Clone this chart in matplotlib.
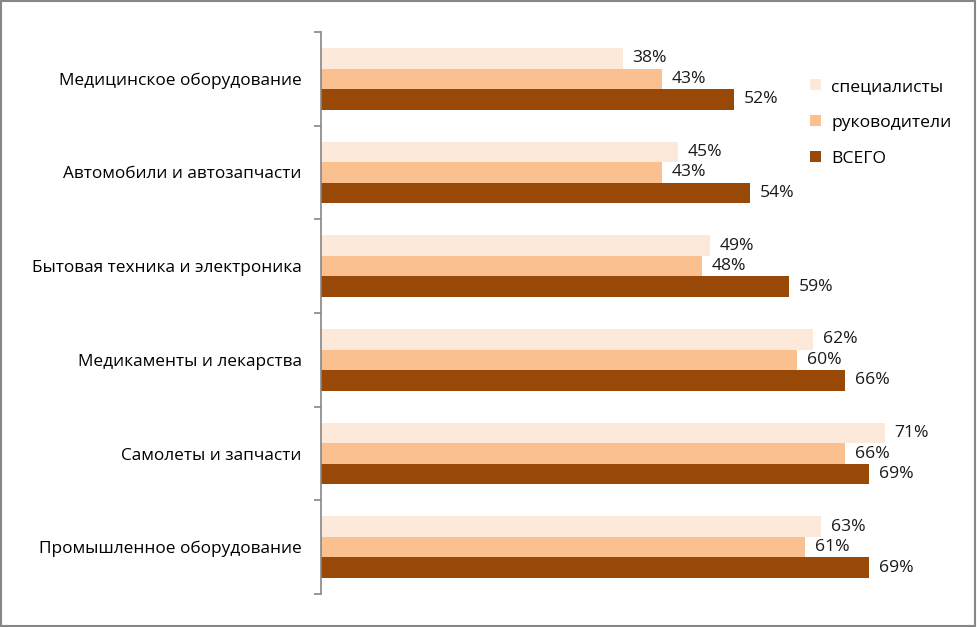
import matplotlib

matplotlib.use("Agg")
import matplotlib.pyplot as plt
import numpy as np
from matplotlib.patches import Rectangle

# data (top to bottom)
categories = [
    "Медицинское оборудование",
    "Автомобили и автозапчасти",
    "Бытовая техника и электроника",
    "Медикаменты и лекарства",
    "Самолеты и запчасти",
    "Промышленное оборудование",
]
specialists = [38, 45, 49, 62, 71, 63]
managers = [43, 43, 48, 60, 66, 61]
total = [52, 54, 59, 66, 69, 69]
series_names = ["специалисты", "руководители", "ВСЕГО"]

COLORS = ["#FDE9D9", "#FAC090", "#984807"]

plt.rcParams.update({
    "font.family": ["Open Sans", "DejaVu Sans"],
    "font.size": 12.4,
})

fig = plt.figure(figsize=(9.77, 6.27), dpi=100)
ax = fig.add_axes([321 / 977, 1 - 594 / 627, (972 - 321) / 977, (594 - 32) / 627])

y = np.arange(len(categories))
h = 0.22
series = [specialists, managers, total]
for k, (vals, name, col) in enumerate(zip(series, series_names, COLORS)):
    pos = y + (k - 1) * h
    bars = ax.barh(pos, vals, height=h, color=col, label=name, edgecolor="none")
    for b, v in zip(bars, vals):
        ax.annotate(f"{v}%", (b.get_width(), b.get_y() + b.get_height() / 2),
                    xytext=(7, 0), textcoords="offset points",
                    va="center", ha="left", fontsize=12.6, color="#1a1a1a")

ax.set_xlim(0, 82)
ax.set_ylim(len(categories) - 0.5, -0.5)
ax.set_yticks(y)
ax.set_yticklabels(categories)
ax.tick_params(axis="y", which="major", length=0, pad=14, labelsize=12.4)
ax.set_yticks(np.arange(-0.5, len(categories), 1), minor=True)
ax.tick_params(axis="y", which="minor", length=5, color="#868686", width=1.2)
ax.set_xticks([])
for s in ["top", "right", "bottom"]:
    ax.spines[s].set_visible(False)
ax.spines["left"].set_color("#868686")
ax.spines["left"].set_linewidth(1.2)

ax.legend(loc="upper left", bbox_to_anchor=(0.727, 0.945), frameon=False,
          handlelength=0.6, handleheight=0.6, labelspacing=1.15,
          handletextpad=0.6, fontsize=12.6)

fig.patches.append(Rectangle((0.001, 0.002), 0.997, 0.996, transform=fig.transFigure,
                             fill=False, edgecolor="#868686", linewidth=1.5))

fig.savefig("out.png", dpi=100, facecolor="white")
